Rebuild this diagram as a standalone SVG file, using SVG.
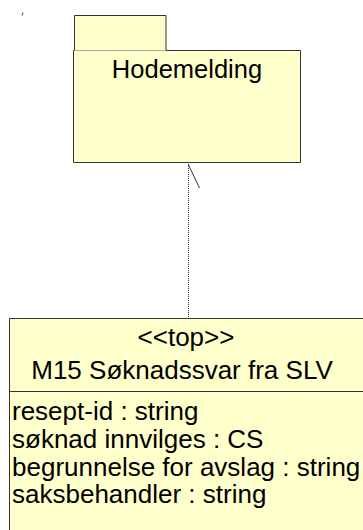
<svg xmlns="http://www.w3.org/2000/svg" width="363" height="530" viewBox="0 0 363 530">
<style>
.fill{fill:#FFFFCC}
.edge{stroke:#333333;stroke-width:1;fill:none}
.t{font-family:"Liberation Sans",Arial,sans-serif;font-size:26px;fill:#000000}
.h{font-size:25.5px}
.c{text-anchor:middle}
.dep{stroke:#333333;stroke-width:1;fill:none}
</style>
<rect width="363" height="530" fill="#FFFFFF"/>
<line x1="23" y1="12.5" x2="22" y2="15.5" stroke="#000000" stroke-width="0.8"/>
<g id="hodemelding">
<rect class="fill" x="74.5" y="15.5" width="91.5" height="35"/>
<path class="edge" d="M74.5 50.5 V15.5 H166 V50.5"/>
<rect class="fill" x="73.5" y="50.5" width="227" height="112"/>
<line x1="74.5" y1="50.5" x2="166" y2="50.5" stroke="#AAAAAA" stroke-width="1"/>
<path class="edge" d="M166 50.5 H300.5 V162.5 H73.5 V50.5 H74.5"/>
<text class="t h c" x="187" y="78">Hodemelding</text>
</g>
<g id="connectors">
<line class="dep" x1="188.5" y1="164" x2="188.5" y2="317" stroke-dasharray="1,1"/>
<line class="dep" x1="188.5" y1="165" x2="199.5" y2="188"/>
</g>
<g id="m15">
<rect class="fill" x="9.5" y="318.5" width="370" height="230"/>
<path class="edge" d="M379.5 318.5 H9.5 V548"/>
<line class="edge" x1="9.5" y1="391.5" x2="379.5" y2="391.5"/>
<text class="t c" x="186" y="346">&lt;&lt;top&gt;&gt;</text>
<text class="t c" x="182" y="379">M15 Søknadssvar fra SLV</text>
<text class="t" x="12" y="420">resept-id : string</text>
<text class="t" x="12" y="448">søknad innvilges : CS</text>
<text class="t" x="12" y="476">begrunnelse for avslag : string</text>
<text class="t" x="12" y="503">saksbehandler : string</text>
</g>
</svg>
